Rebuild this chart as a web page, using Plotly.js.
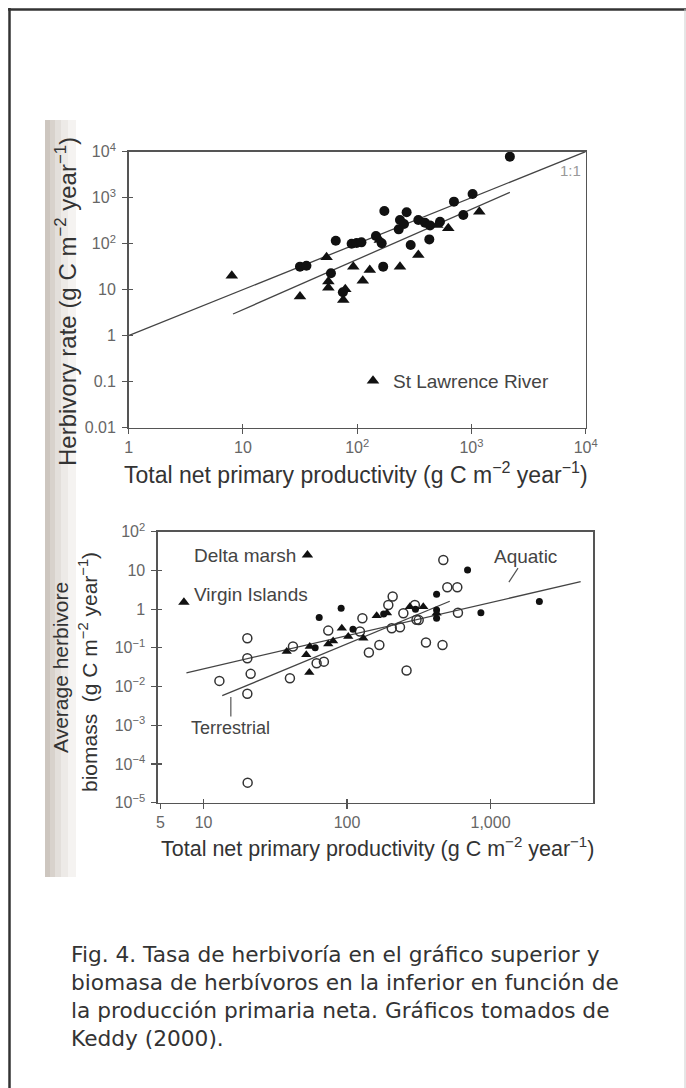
<!DOCTYPE html>
<html><head><meta charset="utf-8">
<script src="https://cdn.plot.ly/plotly-3.0.1.min.js"></script>
<style>html,body{margin:0;padding:0;background:#fff;}#chart{width:686px;height:1088px;}</style>
</head><body><div id="chart"></div>
<script>
// ---------- Top panel: herbivory rate vs NPP ----------
const topCircleX = [2170,1024,703,173,271,237,231,257,343,392,434,531,849,428,294,65,89.5,99,109,146,164,31.6,36,169,59,75];
const topCircleY = [7800,1203,820,514,481,327,205,268,327,286,250,301,421,124,94,116,100,104,107,147,102,31.7,33.3,31.7,22.7,8.8];
const topTriX = [8,31.6,54,56,92.5,129,112,237,343,1172,627,502,75.6,78.7,158,56];
const topTriY = [20,7.1,50.6,15,31.7,26.8,15.7,31.7,56.8,497,216,255,6.0,10.2,120,11];
const oneToOneX = [1,10000];
const oneToOneY = [1,10000];
const topFitX = [8.2,2170];
const topFitY = [2.96,1310];
const topXTickVals = [1,10,100,1000,10000];
const topXTickText = ['1','10','10<sup>2</sup>','10<sup>3</sup>','10<sup>4</sup>'];
const topYTickVals = [0.01,0.1,1,10,100,1000,10000];
const topYTickText = ['0.01','0.1','1','10','10<sup>2</sup>','10<sup>3</sup>','10<sup>4</sup>'];

// ---------- Bottom panel: herbivore biomass vs NPP ----------
const openX = [469,500,587,208,593,128,74,20.2,20.2,21.3,12.9,20.2,40,61.4,69,142,168,260,355,463,123,205,305,234,194,20.3,316,297,247,42];
const openY = [18.6,3.67,3.67,2.11,0.81,0.58,0.279,0.177,0.054,0.0213,0.014,0.0065,0.0164,0.040,0.044,0.0755,0.119,0.026,0.137,0.119,0.263,0.32,0.53,0.34,1.28,3.3e-5,0.52,1.28,0.78,0.108];
const filledX = [692,2190,857,91,64,421,421,421,300,180,60,110];
const filledY = [10.3,1.57,0.81,1.05,0.61,2.42,0.95,0.58,1.0,0.75,0.1,0.3];
const triX = [38,55,54.6,74,92,130,161,274,340,421,52,102,190,80];
const triY = [0.080,0.108,0.023,0.126,0.32,0.177,0.67,1.16,1.16,0.78,0.066,0.195,0.8,0.15];
const siteNames = ['Delta marsh','Virgin Islands'];
const siteX = [53,7.3];
const siteY = [25,1.5];
const aquaticX = [7.6,4250];
const aquaticY = [0.0227,5.1];
const terrX = [13.5,520];
const terrY = [0.0058,1.6];
const botXTickVals = [5,10,100,1000];
const botXTickText = ['5','10','100','1,000'];
const botYTickVals = [1e-5,1e-4,1e-3,1e-2,1e-1,1,10,100];
const botYTickText = ['10<sup>−5</sup>','10<sup>−4</sup>','10<sup>−3</sup>','10<sup>−2</sup>','10<sup>−1</sup>','1','10','10<sup>2</sup>'];

const captionLines = [
  'Fig. 4. Tasa de herbivoría en el gráfico superior y',
  'biomasa de herbívoros en la inferior en función de',
  'la producción primaria neta. Gráficos tomados de',
  'Keddy (2000).'
];

// ---------- layout helpers ----------
const W = 686, H = 1088;
const px = x => x / W;
const py = y => 1 - y / H;
const FONT = 'Liberation Sans, Arial, sans-serif';
const ink = '#111';
const lineCol = '#444';

const traces = [
  {x: oneToOneX, y: oneToOneY, mode: 'lines', line: {color: lineCol, width: 1.3}, xaxis: 'x', yaxis: 'y', showlegend: false, hoverinfo: 'skip'},
  {x: topFitX, y: topFitY, mode: 'lines', line: {color: lineCol, width: 1.3}, xaxis: 'x', yaxis: 'y', showlegend: false, hoverinfo: 'skip'},
  {x: topCircleX, y: topCircleY, mode: 'markers', marker: {symbol: 'circle', size: 10, color: ink}, xaxis: 'x', yaxis: 'y', showlegend: false},
  {x: topTriX, y: topTriY, mode: 'markers', name: 'St Lawrence River', marker: {symbol: 'triangle-up', size: 11, color: ink}, xaxis: 'x', yaxis: 'y', showlegend: true},

  {x: aquaticX, y: aquaticY, mode: 'lines', line: {color: lineCol, width: 1.3}, xaxis: 'x2', yaxis: 'y2', showlegend: false, hoverinfo: 'skip'},
  {x: terrX, y: terrY, mode: 'lines', line: {color: lineCol, width: 1.3}, xaxis: 'x2', yaxis: 'y2', showlegend: false, hoverinfo: 'skip'},
  {x: openX, y: openY, mode: 'markers', marker: {symbol: 'circle-open', size: 9, color: '#333', line: {width: 1.5, color: '#333'}}, xaxis: 'x2', yaxis: 'y2', showlegend: false},
  {x: filledX, y: filledY, mode: 'markers', marker: {symbol: 'circle', size: 7, color: ink}, xaxis: 'x2', yaxis: 'y2', showlegend: false},
  {x: triX, y: triY, mode: 'markers', marker: {symbol: 'triangle-up', size: 9, color: ink}, xaxis: 'x2', yaxis: 'y2', showlegend: false},
  {x: siteX, y: siteY, mode: 'markers', marker: {symbol: 'triangle-up', size: 10, color: ink}, xaxis: 'x2', yaxis: 'y2', showlegend: false},

  // invisible carriers for the overlay axes that draw the inner half of the crossing ticks
  {x: oneToOneX, y: oneToOneY, mode: 'lines', line: {width: 0}, opacity: 0, xaxis: 'x3', yaxis: 'y3', showlegend: false, hoverinfo: 'skip'},
  {x: aquaticX, y: aquaticY, mode: 'lines', line: {width: 0}, opacity: 0, xaxis: 'x4', yaxis: 'y4', showlegend: false, hoverinfo: 'skip'}
];

const tickFont = {family: FONT, size: 16, color: '#666'};
const axisCommon = {
  type: 'log', showgrid: false, zeroline: false, showline: true, mirror: true,
  linecolor: '#555', linewidth: 1.5, ticks: 'outside', ticklen: 5, tickwidth: 1.2,
  tickcolor: '#555', tickfont: tickFont, tickmode: 'array', fixedrange: true
};
const innerTicks = {
  type: 'log', showgrid: false, zeroline: false, showline: false, showticklabels: false,
  ticks: 'inside', ticklen: 4, tickwidth: 1.2, tickcolor: '#555', tickmode: 'array', fixedrange: true
};

const titleFont = s => ({family: FONT, size: s, color: '#333'});
const annotations = [
  {xref: 'paper', yref: 'paper', x: px(66), y: py(302), xanchor: 'center', yanchor: 'middle', text: 'Herbivory rate (g C m<sup>−2</sup> year<sup>−1</sup>)', textangle: -90, showarrow: false, font: titleFont(24)},
  {xref: 'paper', yref: 'paper', x: px(356), y: py(473), xanchor: 'center', yanchor: 'middle', text: 'Total net primary productivity (g C m<sup>−2</sup> year<sup>−1</sup>)', showarrow: false, font: titleFont(23)},
  {xref: 'paper', yref: 'paper', x: px(60), y: py(668), xanchor: 'center', yanchor: 'middle', text: 'Average herbivore', textangle: -90, showarrow: false, font: titleFont(21)},
  {xref: 'paper', yref: 'paper', x: px(88), y: py(672), xanchor: 'center', yanchor: 'middle', text: 'biomass  (g C m<sup>−2</sup> year<sup>−1</sup>)', textangle: -90, showarrow: false, font: titleFont(21)},
  {xref: 'paper', yref: 'paper', x: px(377), y: py(847), xanchor: 'center', yanchor: 'middle', text: 'Total net primary productivity (g C m<sup>−2</sup> year<sup>−1</sup>)', showarrow: false, font: titleFont(21.5)},
  {xref: 'x', yref: 'y', x: Math.log10(oneToOneX[1]), y: Math.log10(oneToOneY[1]), text: '1:1', xanchor: 'right', yanchor: 'top', xshift: -3, yshift: -8, showarrow: false, font: {family: FONT, size: 15, color: '#999'}},
  {xref: 'x2', yref: 'y2', x: Math.log10(siteX[0]), y: Math.log10(siteY[0]), text: siteNames[0], xanchor: 'right', yanchor: 'middle', xshift: -9, showarrow: false, font: {family: FONT, size: 19, color: '#444'}},
  {xref: 'x2', yref: 'y2', x: Math.log10(siteX[1]), y: Math.log10(siteY[1]), text: siteNames[1], xanchor: 'left', yanchor: 'middle', xshift: 8, yshift: 8, showarrow: false, font: {family: FONT, size: 19, color: '#444'}},
  {xref: 'x2', yref: 'y2', x: Math.log10(1343), y: Math.log10(5.0), text: 'Aquatic', showarrow: true, arrowhead: 0, arrowwidth: 1.2, arrowcolor: '#555', ax: 17, ay: -26, font: {family: FONT, size: 19, color: '#444'}},
  {xref: 'x2', yref: 'y2', x: Math.log10(15.5), y: Math.log10(0.0054), text: 'Terrestrial', showarrow: true, arrowhead: 0, arrowwidth: 1.2, arrowcolor: '#555', ax: 0, ay: 31, font: {family: FONT, size: 18, color: '#444'}}
];
captionLines.forEach((t, i) => {
  annotations.push({xref: 'paper', yref: 'paper', x: px(69), y: py(954 + i * 28.3), xanchor: 'left', yanchor: 'middle', text: t, showarrow: false, font: {family: 'DejaVu Sans, Verdana, sans-serif', size: 21.7, color: '#333'}});
});

const shapes = [];
// scanned page left-edge shading
const strip = [['#cdc6bf',45,50],['#d8d2cc',50,55],['#e3dfdb',55,61],['#edeae7',61,68],['#f5f3f1',68,76]];
strip.forEach(s => shapes.push({type: 'rect', xref: 'paper', yref: 'paper', x0: px(s[1]), x1: px(s[2]), y0: py(877), y1: py(120), fillcolor: s[0], line: {width: 0}, layer: 'below'}));
// page frame
shapes.push({type: 'line', xref: 'paper', yref: 'paper', x0: px(9.5), x1: px(9.5), y0: py(8), y1: py(1090), line: {color: '#333', width: 2.5}});
shapes.push({type: 'line', xref: 'paper', yref: 'paper', x0: px(8), x1: px(690), y0: py(9.5), y1: py(9.5), line: {color: '#333', width: 2.5}});
shapes.push({type: 'line', xref: 'paper', yref: 'paper', x0: px(685), x1: px(685), y0: py(9), y1: py(1090), line: {color: '#ccc', width: 1}});

const layout = {
  width: W, height: H,
  margin: {l: 0, r: 0, t: 0, b: 0},
  paper_bgcolor: '#fff', plot_bgcolor: '#fff',
  font: {family: FONT, color: '#333'},
  xaxis: Object.assign({}, axisCommon, {domain: [px(128.6), px(585.7)], range: [0, 4], anchor: 'y', tickvals: topXTickVals, ticktext: topXTickText}),
  yaxis: Object.assign({}, axisCommon, {domain: [py(427.7), py(151.7)], range: [-2, 4], anchor: 'x', tickvals: topYTickVals, ticktext: topYTickText, ticklabelstandoff: 3}),
  xaxis2: Object.assign({}, axisCommon, {domain: [px(157.9), px(593.1)], range: [0.682, 3.715], anchor: 'y2', tickvals: botXTickVals, ticktext: botXTickText, ticklabelstandoff: 0}),
  yaxis2: Object.assign({}, axisCommon, {domain: [py(802.7), py(531.7)], range: [-5, 2], anchor: 'x2', tickvals: botYTickVals, ticktext: botYTickText, ticklabelstandoff: 3}),
  xaxis3: Object.assign({}, innerTicks, {overlaying: 'x', anchor: 'y', range: [0, 4], tickvals: topXTickVals.slice(1, 4)}),
  yaxis3: Object.assign({}, innerTicks, {overlaying: 'y', anchor: 'x', range: [-2, 4], tickvals: topYTickVals.slice(0, 6)}),
  xaxis4: Object.assign({}, innerTicks, {overlaying: 'x2', anchor: 'y2', range: [0.682, 3.715], tickvals: botXTickVals.slice(1)}),
  yaxis4: Object.assign({}, innerTicks, {overlaying: 'y2', anchor: 'x2', range: [-5, 2], tickvals: botYTickVals.slice(0, 7)}),
  showlegend: true,
  legend: {x: px(353), y: py(381), xanchor: 'left', yanchor: 'middle', bgcolor: 'rgba(0,0,0,0)', borderwidth: 0, font: {family: FONT, size: 19, color: '#444'}, itemwidth: 30},
  annotations: annotations,
  shapes: shapes
};

Plotly.newPlot('chart', traces, layout, {staticPlot: true, displayModeBar: false});
</script></body></html>
